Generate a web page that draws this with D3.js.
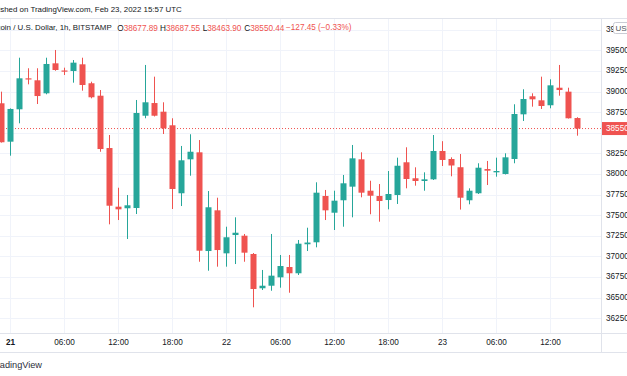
<!DOCTYPE html>
<html><head><meta charset="utf-8">
<script src="https://cdn.jsdelivr.net/npm/d3@7/dist/d3.min.js"></script>
<style>body{margin:0;background:#fff}svg{display:block}text{font-family:"Liberation Sans",Arial,sans-serif}</style>
</head><body><svg id="c" width="627" height="376"></svg>
<script>
// hours since 21 Feb 2022 00:00 UTC
const hours = [-1,0,1,2,3,4,5,6,7,8,9,10,11,12,13,14,15,16,17,18,19,20,21,22,23,24,25,26,27,28,29,30,31,32,33,34,35,36,37,38,39,40,41,42,43,44,45,46,47,48,49,50,51,52,53,54,55,56,57,58,59,60,61,62,63];
const open  = [38857,38391,38784,39160,39136,38978,39342,39255,39249,39330,39100,38949,38314,37602,37583,37586,38706,38860,38755,38590,37765,38177,38262,37064,37558,37036,37258,37250,37028,36612,36643,36745,36870,36794,37146,37170,37732,37529,37680,37845,38177,37796,37732,37683,37744,38141,37947,37914,37934,38278,38181,38081,37680,37765,38059,38019,37999,38181,38723,38942,38893,38833,39046,38998,38677.89];
const high  = [38998,38795,39410,39282,39282,39410,39504,39289,39382,39410,39119,39018,38472,37832,37744,38897,39322,39180,38869,38675,38339,38481,38411,37792,37711,37359,37473,37271,37040,36834,37271,37016,37016,37198,37347,37898,37805,37796,37987,38351,38262,37917,37877,38035,38197,38323,38080,38019,38472,38397,38201,38241,37825,38129,38157,38197,38250,38845,39027,38978,39180,39148,39322,39046,38687.55];
const low   = [38380,38221,38614,39087,38848,38966,39252,39200,39107,39010,38917,38269,37388,37440,37210,37513,38675,38697,38484,37574,37610,37978,36934,36825,36874,36874,36906,36934,36381,36591,36582,36619,36558,36773,37064,37109,37440,37319,37359,37473,37716,37510,37420,37570,37635,37825,37857,37796,37926,38096,37971,37567,37631,37756,37865,37966,37993,38129,38642,38816,38788,38796,38949,38672,38463.90];
const close = [38384,38788,39160,39148,38945,39334,39261,39245,39350,39079,38930,38302,37614,37570,37619,38739,38869,38706,38553,37817,38165,38269,37068,37595,37076,37231,37286,37044,36603,36643,36765,36882,36794,37153,37167,37772,37558,37675,37886,38189,37772,37735,37671,37756,38099,37938,37914,37934,38278,38169,38102,37711,37796,38075,38039,38035,38201,38727,38909,38905,38824,39075,39018,38675,38550.44];
const priceTicks = [36250,36500,36750,37000,37250,37500,37750,38000,38250,38500,38750,39000,39250,39500,39750];
const timeTickHours = [0,6,12,18,24,30,36,42,48,54,60];
const timeTickLabels = ["21","06:00","12:00","18:00","22","06:00","12:00","18:00","23","06:00","12:00"];
const lastPrice = 38550.44;

const UP = "#26a69a", DOWN = "#ef5350", GRID = "#f0f3fa", BORDER = "#e0e3eb", TXT = "#131722";
const svg = d3.select("#c");
const plotTop = 18, plotBottom = 333.5, axisX = 601;
const x = d3.scaleLinear().domain([0, 63]).range([10.5, 577.5]);
const y = d3.scaleLinear().domain([36250, 39500]).range([318.1, 50.3]);

// grid
svg.append("g").selectAll("line").data(priceTicks).join("line")
  .attr("x1", 0).attr("x2", axisX).attr("y1", d => Math.round(y(d)) + 0.5).attr("y2", d => Math.round(y(d)) + 0.5)
  .attr("stroke", GRID);
svg.append("g").selectAll("line").data(timeTickHours).join("line")
  .attr("x1", d => x(d)).attr("x2", d => x(d)).attr("y1", plotTop).attr("y2", plotBottom)
  .attr("stroke", GRID);

// borders
svg.append("line").attr("x1", 0).attr("x2", 627).attr("y1", plotTop + 0.5).attr("y2", plotTop + 0.5).attr("stroke", BORDER);
svg.append("line").attr("x1", 0).attr("x2", 627).attr("y1", plotBottom).attr("y2", plotBottom).attr("stroke", BORDER);
svg.append("line").attr("x1", 0).attr("x2", 627).attr("y1", 352.5).attr("y2", 352.5).attr("stroke", BORDER);
svg.append("line").attr("x1", axisX + 0.5).attr("x2", axisX + 0.5).attr("y1", plotTop).attr("y2", 352.5).attr("stroke", BORDER);

// price line
svg.append("line").attr("x1", 0).attr("x2", axisX).attr("y1", y(lastPrice)).attr("y2", y(lastPrice))
  .attr("stroke", DOWN).attr("stroke-dasharray", "1,2").attr("stroke-width", 1);

// candles
const data = hours.map((h, i) => ({h, o: open[i], hi: high[i], l: low[i], c: close[i]}));
const g = svg.append("g");
g.selectAll("line").data(data).join("line")
  .attr("x1", d => x(d.h)).attr("x2", d => x(d.h))
  .attr("y1", d => y(d.hi)).attr("y2", d => y(d.l))
  .attr("stroke", d => d.c >= d.o ? UP : DOWN).attr("stroke-width", 1);
g.selectAll("rect").data(data).join("rect")
  .attr("x", d => x(d.h) - 3).attr("width", 6)
  .attr("y", d => y(Math.max(d.o, d.c)))
  .attr("height", d => Math.max(1.2, Math.abs(y(d.o) - y(d.c))))
  .attr("fill", d => d.c >= d.o ? UP : DOWN);

// y axis labels
svg.append("g").selectAll("text").data(priceTicks.filter(d => d !== 38500)).join("text")
  .attr("x", 606).attr("y", d => y(d)).attr("dominant-baseline", "central")
  .attr("font-size", 8.2).attr("fill", TXT).text(d => d);

// USD box
svg.append("rect").attr("x", 613.5).attr("y", 22.5).attr("width", 20).attr("height", 11).attr("rx", 2)
  .attr("fill", "#fff").attr("stroke", "#c9ccd4");
svg.append("text").attr("x", 615.5).attr("y", 28.2).attr("dominant-baseline", "central")
  .attr("font-size", 8).attr("fill", "#50535e").text("USD");

// last price label
svg.append("rect").attr("x", axisX + 1).attr("y", y(lastPrice) - 6.5).attr("width", 30).attr("height", 13).attr("fill", DOWN);
svg.append("text").attr("x", 606).attr("y", y(lastPrice)).attr("dominant-baseline", "central")
  .attr("font-size", 8.2).attr("fill", "#fff").text(lastPrice.toFixed(2));

// time axis labels
svg.append("g").selectAll("text").data(timeTickHours).join("text")
  .attr("x", d => x(d)).attr("y", 342.5).attr("dominant-baseline", "central").attr("text-anchor", "middle")
  .attr("font-size", 8.2).attr("fill", TXT)
  .attr("font-weight", (d, i) => i === 0 ? "bold" : "normal")
  .text((d, i) => timeTickLabels[i]);

// header
svg.append("text").attr("x", 181.7).attr("y", 9.3).attr("dominant-baseline", "central").attr("text-anchor", "end")
  .attr("font-size", 7.9).attr("fill", TXT).text("Published on TradingView.com, Feb 23, 2022 15:57 UTC");
svg.append("text").attr("x", 111.7).attr("y", 27.5).attr("dominant-baseline", "central").attr("text-anchor", "end")
  .attr("font-size", 7.9).attr("fill", TXT).text("Bitcoin / U.S. Dollar, 1h, BITSTAMP");
const legend = [["O", open[open.length-1].toFixed(2), 117.3], ["H", high[high.length-1].toFixed(2), 160], ["L", low[low.length-1].toFixed(2), 202.7], ["C", close[close.length-1].toFixed(2), 244.3]];
legend.forEach(([k, v, px]) => {
  const t = svg.append("text").attr("x", px).attr("y", 27.5).attr("dominant-baseline", "central").attr("font-size", 8.2);
  t.append("tspan").attr("fill", TXT).text(k);
  t.append("tspan").attr("fill", DOWN).text(v);
});
svg.append("text").attr("x", 286).attr("y", 27.5).attr("dominant-baseline", "central").attr("font-size", 8.2)
  .attr("fill", DOWN).text("\u2212127.45 (\u22120.33%)");

// footer
svg.append("text").attr("x", 42).attr("y", 364.5).attr("dominant-baseline", "central").attr("text-anchor", "end")
  .attr("font-size", 9.2).attr("fill", "#2a2e39").text("TradingView");
</script></body></html>
